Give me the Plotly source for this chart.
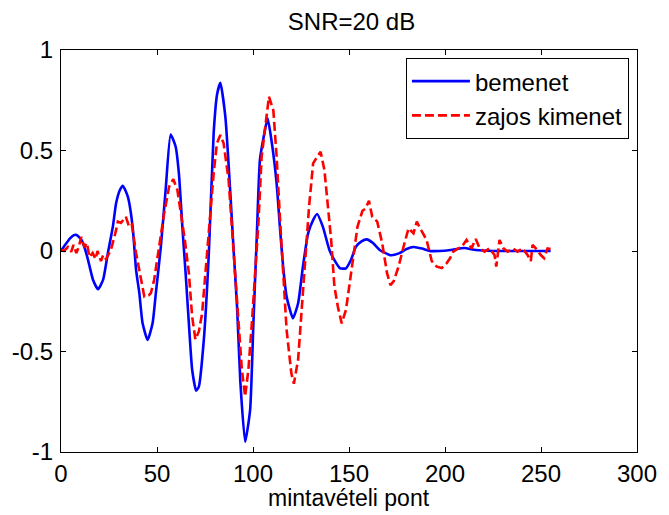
import plotly.graph_objects as go

# ---- data ----
bemenet_x = [0, 0.3, 2.5, 4.7, 6.5, 8.1, 10.7, 12.5, 14.1, 16.7, 19.3, 21.9, 24.4, 27, 28.7, 30.5, 32.2,
             34.8, 37.3, 39.1, 40.8, 42.5, 45.1, 47.7, 49.4, 52, 54.5, 57.1, 59.7, 61.4, 63.2, 64.9,
             66.6, 68.3, 70.4, 71.8, 74.4, 77, 79.5, 81.3, 83, 85.6, 88.2, 90, 91.7, 93.4, 95.9, 98.5,
             100.2, 101.9, 103.6, 105.4, 107.6, 109.6, 112.3, 114, 115.7, 117.5, 120.8, 123.5, 126,
             128.7, 131.3, 133.4, 136.4, 139.8, 142.4, 145.4, 148.4, 151, 153.6, 156.5, 159.2, 162.5,
             166, 171.6, 176, 180, 183.6, 188, 192, 197, 203, 210, 216, 225, 240, 255]
bemenet_y = [0, 0.005, 0.035, 0.063, 0.078, 0.08, 0.055, 0.01, -0.045, -0.144, -0.19, -0.144, -0.011,
             0.121, 0.237, 0.3, 0.325, 0.27, 0.121, -0.094, -0.21, -0.36, -0.443, -0.36, -0.21, 0.021,
             0.304, 0.58, 0.52, 0.386, 0.121, -0.11, -0.36, -0.59, -0.695, -0.675, -0.44, -0.011, 0.585,
             0.78, 0.837, 0.668, 0.287, -0.011, -0.277, -0.65, -0.95, -0.79, -0.36, 0.055, 0.453, 0.56,
             0.66, 0.552, 0.337, 0.12, -0.078, -0.227, -0.335, -0.26, -0.078, 0.088, 0.154, 0.184, 0.12,
             0.005, -0.045, -0.086, -0.086, -0.045, 0.021, 0.048, 0.058, 0.04, 0.005, -0.021, -0.012,
             0.01, 0.02, 0.012, 0.0, 0.0, 0.005, 0.015, 0.005, 0.0, 0.0, 0.0]

kimenet_x = [0.2, 1.5, 3.6, 5.3, 6.5, 8, 9.3, 10.5, 12.2, 13.5, 14.8, 16.5, 18, 19, 20.8, 22, 23.4, 26,
             28.6, 29.6, 31.2, 33.8, 35.5, 36.9, 39.1, 40.8, 43.4, 45.8, 46.8, 48.5, 51.1, 53.7, 56.3,
             58.5, 60.6, 62.3, 64.5, 66.6, 68.3, 70, 71.8, 73.5, 75.2, 76.9, 79.5, 81.2, 83, 84.7, 87.3,
             89, 90.7, 92.5, 94.2, 95.9, 97.6, 99.4, 101.1, 102.8, 104.5, 106.3, 108.3, 110.6, 112.3,
             114, 115.7, 117.5, 120, 121.3, 123.5, 125.2, 127, 129.2, 131.3, 133.5, 135.2, 137.2, 139,
             140.7, 142.4, 144.2, 146.2, 148.4, 149.2, 151, 152.5, 154.4, 157, 158.5, 160.4, 162.1,
             164.7, 167.3, 169.8, 171.6, 173.3, 175.8, 178.4, 181, 183.6, 185.3, 187.8, 190.4, 193.1,
             195.7, 198.3, 200.9, 202.6, 204.3, 206.9, 208.6, 211.2, 213.8, 216, 218.1, 220.6, 223.2,
             225.8, 226.7, 228.4, 230.4, 232.7, 235.3, 237.8, 240.4, 243, 244.7, 245.6, 247.3, 249.9,
             251.6, 253.4, 255]
kimenet_y = [0.005, 0.0, 0.02, -0.004, 0.03, -0.01, 0.02, 0.07, 0.02, 0.04, -0.03, -0.01, -0.04, 0.0,
             -0.05, -0.02, -0.04, 0.005, 0.1, 0.146, 0.14, 0.17, 0.12, 0.13, -0.01, -0.094, -0.227,
             -0.22, -0.21, -0.144, 0.021, 0.186, 0.32, 0.357, 0.304, 0.205, 0.055, -0.11, -0.326, -0.44,
             -0.4, -0.31, -0.11, 0.12, 0.386, 0.536, 0.577, 0.536, 0.353, 0.12, -0.11, -0.31, -0.59,
             -0.724, -0.59, -0.36, -0.11, 0.137, 0.47, 0.62, 0.768, 0.70, 0.47, 0.17, -0.11, -0.393,
             -0.61, -0.66, -0.54, -0.31, -0.028, 0.22, 0.436, 0.47, 0.494, 0.403, 0.22, 0.055, -0.177,
             -0.277, -0.36, -0.293, -0.24, -0.11, -0.03, 0.12, 0.2, 0.21, 0.25, 0.17, 0.146, 0.038,
             -0.11, -0.17, -0.15, -0.078, 0.021, 0.113, 0.088, 0.146, 0.1, 0.055, -0.05, -0.078, -0.085,
             -0.06, -0.036, -0.003, 0.013, 0.02, 0.055, 0.013, 0.06, 0.013, -0.003, 0.013, -0.02, -0.078,
             0.055, 0.013, -0.003, 0.013, -0.003, 0.013, -0.02, -0.05, 0.03, 0.013, -0.02, -0.036,
             0.013, 0.01]

x_ticks = [0, 50, 100, 150, 200, 250, 300]
y_ticks = [-1, -0.5, 0, 0.5, 1]
y_tick_labels = ["-1", "-0.5", "0", "0.5", "1"]

FONT = "Liberation Sans, Arial, sans-serif"
FS = 24

fig = go.Figure()
fig.add_trace(go.Scatter(x=bemenet_x, y=bemenet_y, mode="lines", name="bemenet",
                         line=dict(color="#0000ff", width=2.6, shape="spline", smoothing=0.5)))
fig.add_trace(go.Scatter(x=kimenet_x, y=kimenet_y, mode="lines", name="zajos kimenet",
                         line=dict(color="#ff0000", width=2.6, dash="9px,4px")))

axis_common = dict(showline=True, linecolor="black", linewidth=1, mirror="ticks",
                   ticks="inside", ticklen=5, tickcolor="black", showgrid=False, zeroline=False,
                   tickfont=dict(family=FONT, size=FS, color="black"))

fig.update_layout(
    width=669, height=515,
    margin=dict(l=61, r=27, t=50, b=63),
    paper_bgcolor="white", plot_bgcolor="white",
    font=dict(family=FONT, size=FS, color="black"),
    title=dict(text="SNR=20 dB", x=(61 + 642) / 2 / 669, xanchor="center",
               y=1 - 22 / 515, yanchor="middle",
               font=dict(family=FONT, size=FS, color="black")),
    xaxis=dict(range=[0, 300], tickvals=x_ticks, **axis_common),
    yaxis=dict(range=[-1, 1], tickvals=y_ticks, ticktext=y_tick_labels, ticklabelstandoff=2,
               **axis_common),
    legend=dict(x=0.986, y=0.98, xanchor="right", yanchor="top",
                bgcolor="white", bordercolor="black", borderwidth=1,
                itemwidth=58,
                font=dict(family=FONT, size=FS, color="black")),
    showlegend=True,
    annotations=[dict(text="mintavételi pont", xref="paper", yref="paper",
                      x=0.5, y=-46 / 402, xanchor="center", yanchor="middle",
                      showarrow=False, borderpad=0,
                      font=dict(family=FONT, size=23, color="black"))],
)

fig.write_html(
    "out.html",
    config={"displayModeBar": False},
    post_script=("document.documentElement.style.overflow='hidden';"
                 "document.body.style.margin='0';document.body.style.overflow='hidden';"),
)
